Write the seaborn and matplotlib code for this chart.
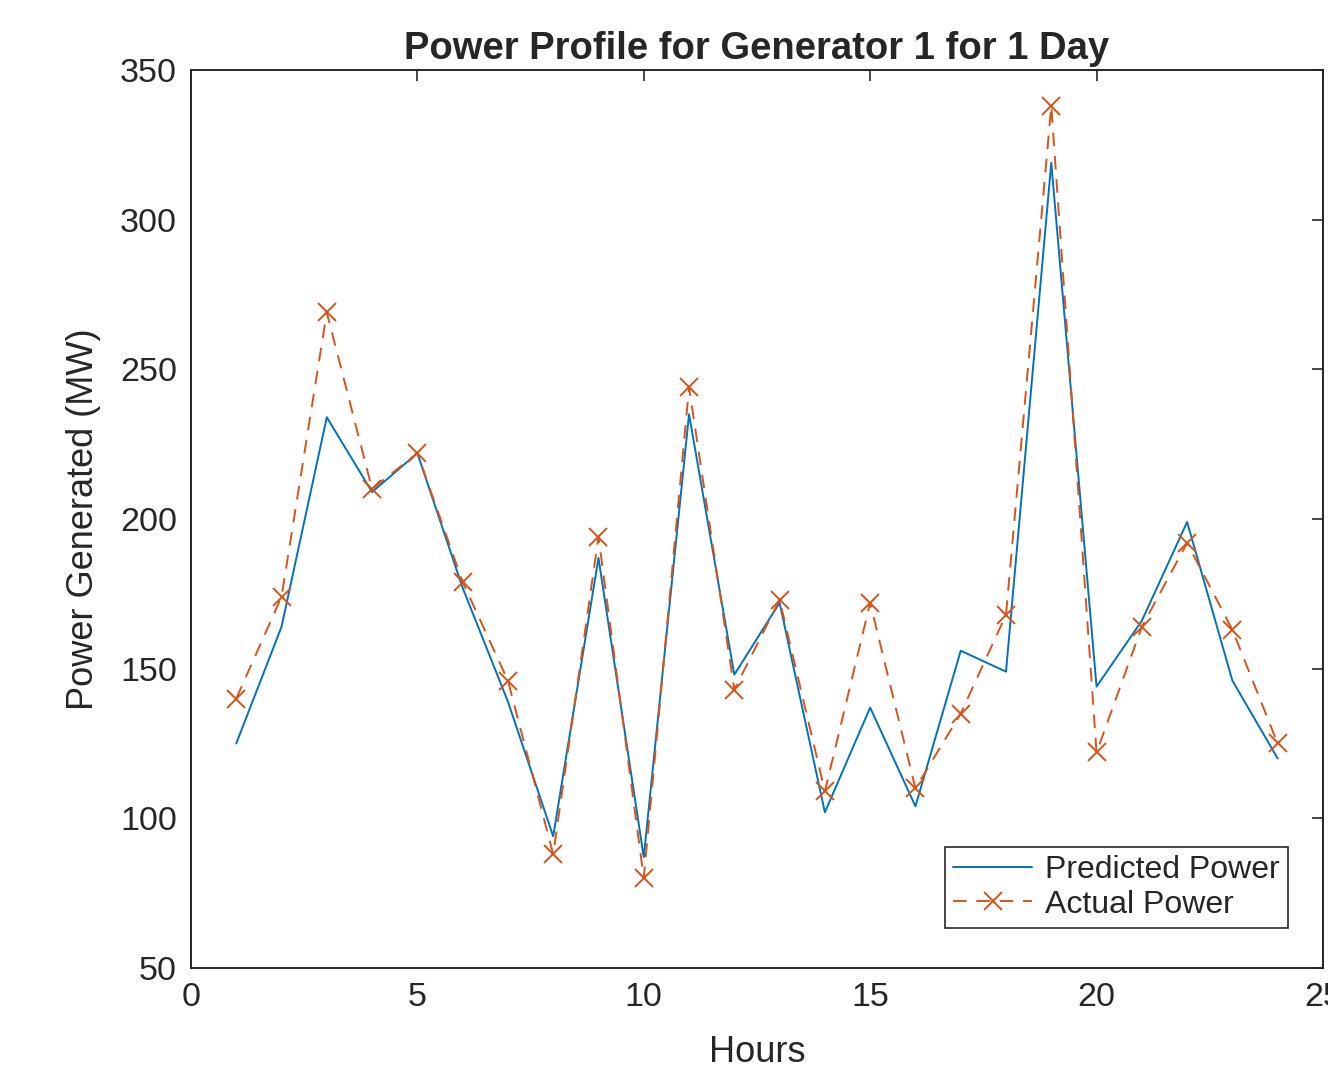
import numpy as np
import pandas as pd
import seaborn as sns
import matplotlib.pyplot as plt

# hourly power for generator 1
hours = list(range(1, 25))
predicted = [125, 164, 234, 209, 222, 177, 139, 94, 187, 87, 235, 148,
             172, 102, 137, 104, 156, 149, 319, 144, 166, 199, 146, 120]
actual = [140, 174, 269, 210, 222, 179, 146, 88, 194, 80, 244, 143,
          173, 109, 172, 110, 135, 168, 338, 122, 164, 192, 163, 125]

df = pd.DataFrame({'Hours': hours, 'Predicted': predicted, 'Actual': actual})

sns.set_style('white')
plt.rcParams['font.family'] = ['Liberation Sans', 'DejaVu Sans']
plt.rcParams['axes.edgecolor'] = '#262626'
plt.rcParams['xtick.color'] = '#262626'
plt.rcParams['ytick.color'] = '#262626'

fig = plt.figure(figsize=(13.28, 10.69), dpi=100)
ax = fig.add_axes([0.1438, 0.0945, 0.8524, 0.84])

blue = '#0072BD'
orange = '#D95319'

sns.lineplot(data=df, x='Hours', y='Predicted', ax=ax, color=blue, lw=1.4,
             label='Predicted Power')
sns.lineplot(data=df, x='Hours', y='Actual', ax=ax, color=orange, lw=1.4,
             linestyle=(0, (7, 5)), marker='x', markersize=13, markeredgewidth=1.4,
             markeredgecolor=orange, label='Actual Power')

ax.set_xlim(0, 25)
ax.set_ylim(50, 350)
ax.set_xticks(range(0, 26, 5))
ax.set_yticks(range(50, 351, 50))
ax.tick_params(axis='both', direction='in', length=8, width=1.2, labelsize=24.5,
               top=True, right=True, pad=10)
for s in ax.spines.values():
    s.set_linewidth(1.4)

ax.set_xlabel('Hours', fontsize=26, color='#262626', labelpad=16)
ax.set_ylabel('Power Generated (MW)', fontsize=26, color='#262626', labelpad=14)
ax.set_title('Power Profile for Generator 1 for 1 Day', fontsize=27.5,
             fontweight='bold', pad=8)

leg = ax.legend(loc='lower right', bbox_to_anchor=(0.969, 0.045), borderaxespad=0,
                fontsize=23, frameon=True, fancybox=False, framealpha=1,
                edgecolor='#262626', handlelength=2.5, handletextpad=0.4,
                borderpad=0.25, labelspacing=0.15)
leg.get_frame().set_linewidth(1.2)

fig.savefig('out.png', dpi=100)
